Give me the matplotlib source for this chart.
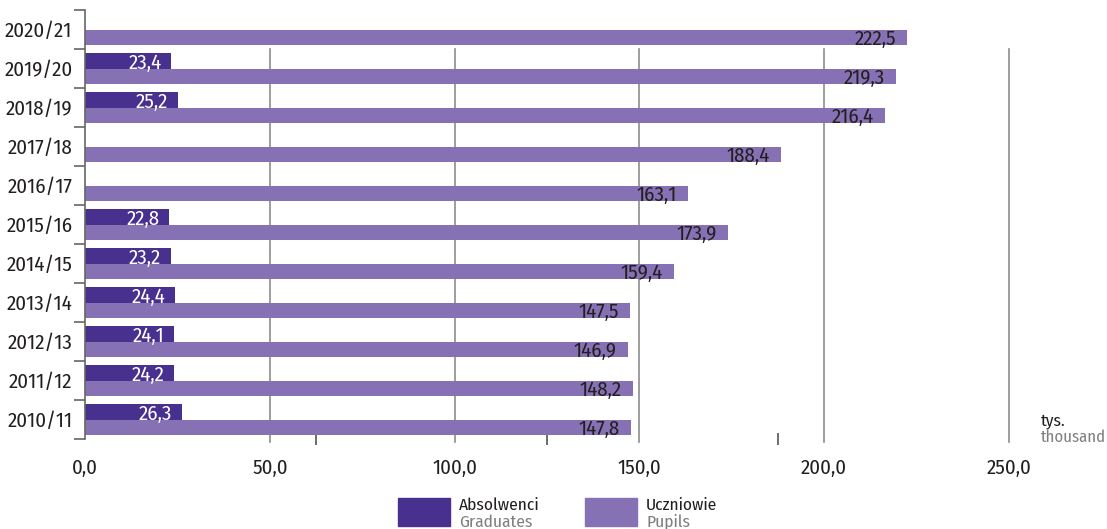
import numpy as np
import matplotlib.pyplot as plt
from matplotlib.patches import Rectangle
from matplotlib.ticker import FixedLocator

plt.rcParams['font.family'] = ['Fira Sans Condensed', 'DejaVu Sans']

# School years, oldest at the bottom
years = ['2010/11', '2011/12', '2012/13', '2013/14', '2014/15', '2015/16',
         '2016/17', '2017/18', '2018/19', '2019/20', '2020/21']
pupils = [147.8, 148.2, 146.9, 147.5, 159.4, 173.9, 163.1, 188.4, 216.4, 219.3, 222.5]
graduates = [26.3, 24.2, 24.1, 24.4, 23.2, 22.8, None, None, 25.2, 23.4, None]
x_ticks = [0, 50, 100, 150, 200, 250]

dark = '#48308f'
light = '#8571b3'
txt = '#231f20'
fs = 15
fs_small = 12.5

fig = plt.figure(figsize=(11.07, 5.29), dpi=100)
ax = fig.add_axes([85 / 1107, 1 - 439 / 529, (1009 - 85) / 1107, 429 / 529])

y = np.arange(len(years))
h = 0.41

# gridlines, stopping below the top row
for v in x_ticks[1:]:
    ax.axvline(v, ymin=-0.008, ymax=10 / 11, color='#8c8c8c', lw=1.2, zorder=0, clip_on=False)

ax.barh(y - h / 2, pupils, height=h, color=light, zorder=2)
for yi, v in zip(y, pupils):
    ax.annotate(f'{v:.1f}'.replace('.', ','), (v, yi - h / 2), xytext=(-8, -1),
                textcoords='offset points', ha='right', va='center',
                color=txt, fontsize=fs, zorder=3)

for yi, v in zip(y, graduates):
    if v is None:
        continue
    ax.barh(yi + h / 2, v, height=h, color=dark, zorder=2)
    ax.annotate(f'{v:.1f}'.replace('.', ','), (v, yi + h / 2), xytext=(-7, -2),
                textcoords='offset points', ha='right', va='center',
                color='white', fontsize=fs, zorder=3)

ax.set_xlim(0, 250)
ax.set_ylim(-0.5, 10.5)

ax.set_xticks(x_ticks)
ax.set_xticklabels([f'{v:.1f}'.replace('.', ',') for v in x_ticks])
ax.xaxis.set_minor_locator(FixedLocator([62.5, 125, 187.5]))
ax.tick_params(axis='x', which='major', length=0, pad=14, labelsize=fs, labelcolor=txt)
ax.tick_params(axis='x', which='minor', direction='inout', length=8, width=1.2, color='#555555')

ax.set_yticks(y)
ax.set_yticklabels(years)
ax.yaxis.set_minor_locator(FixedLocator(np.arange(-0.5, 11, 1)))
ax.tick_params(axis='y', which='major', length=0, pad=9, labelsize=fs, labelcolor=txt)
ax.tick_params(axis='y', which='minor', length=8, width=1.2, color='#666666')

for s in ['top', 'right', 'bottom']:
    ax.spines[s].set_visible(False)
ax.spines['left'].set_color('#666666')
ax.spines['left'].set_linewidth(1.2)

# unit label
fig.text(1041 / 1107, 1 - 421 / 529, 'tys.', fontsize=fs_small, color=txt, va='center')
fig.text(1041 / 1107, 1 - 437 / 529, 'thousand', fontsize=12, color='#7f7f7f', va='center')

# legend
for x0, col, pl, en in [(398, dark, 'Absolwenci', 'Graduates'), (585, light, 'Uczniowie', 'Pupils')]:
    fig.patches.append(Rectangle((x0 / 1107, 1 - 526 / 529), 52 / 1107, 28 / 529,
                                 transform=fig.transFigure, color=col))
    fig.text((x0 + 61) / 1107, 1 - 505 / 529, pl, fontsize=fs_small, color=txt, va='center')
    fig.text((x0 + 61) / 1107, 1 - 522 / 529, en, fontsize=fs_small, color='#7f7f7f', va='center')

fig.savefig('out.png', dpi=100)
